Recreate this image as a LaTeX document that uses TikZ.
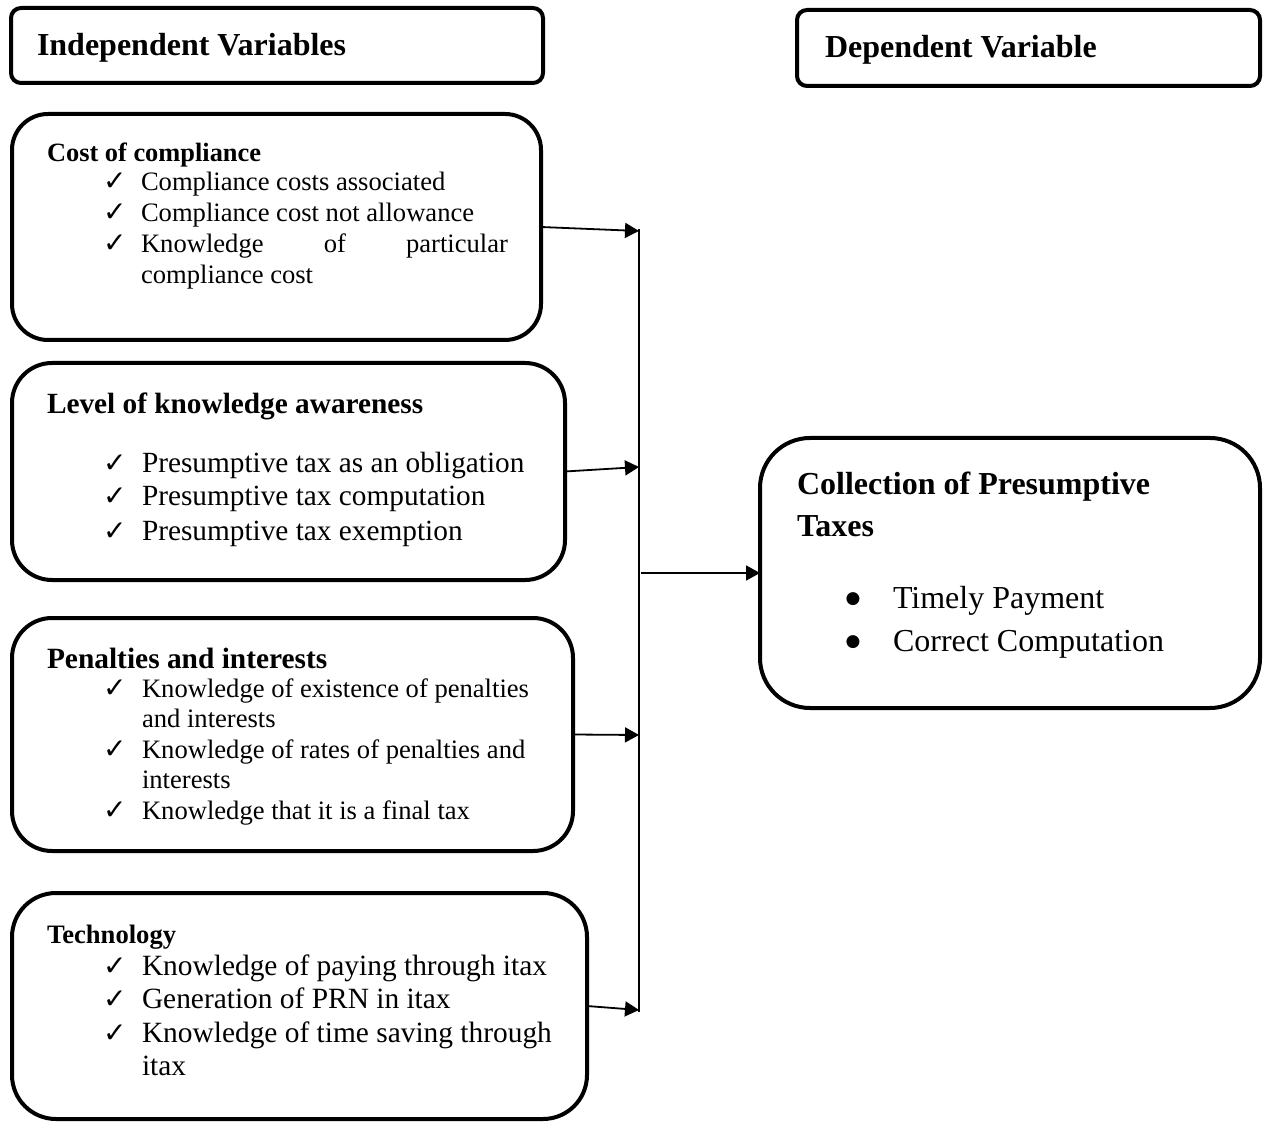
\documentclass[tikz,border=0pt]{standalone}
\usepackage{fontspec}
\setmainfont{Liberation Serif}
\newfontfamily\symfont{DejaVu Sans}
\usetikzlibrary{arrows.meta}
\begin{document}
\begin{tikzpicture}[x=0.5pt,y=-0.5pt,
  box/.style={draw, line width=2pt, inner sep=0pt, outer sep=0pt},
  txt/.style={anchor=base west, inner sep=0pt, outer sep=0pt},
  hd/.style={txt, font=\bfseries\fontsize{#1}{#1}\selectfont},
  bd/.style={txt, font=\fontsize{#1}{#1}\selectfont},
  ck/.style={txt, font=\symfont\fontsize{14}{14}\selectfont},
  dot/.style={anchor=center, inner sep=0pt, outer sep=0pt, font=\symfont\fontsize{8.5}{8.5}\selectfont},
  arr/.style={-{Triangle[length=7pt,width=7.5pt]}, line width=0.9pt},
  vline/.style={line width=0.75pt}]
\useasboundingbox (0,0) rectangle (1263,1122);
\fill[white] (0,0) rectangle (1263,1122);

% header boxes
\node[box, rounded corners=5pt, minimum width=266pt, minimum height=37.5pt] (hA) at (277,45.5) {};
\node[box, rounded corners=5pt, minimum width=231.5pt, minimum height=38pt] (hB) at (1028.5,48) {};
\node[hd=16] (hAt) at (37,56) {Independent Variables};
\node[hd=16] (hBt) at (825,58) {Dependent Variable};

% box 1
\node[box, rounded corners=18pt, minimum width=264.5pt, minimum height=113pt] (b1) at (276.5,227) {};
\node[hd=13.2] (b1h) at (47,162) {Cost of compliance};
\node[ck] (b1c1) at (103,191) {✓};
\node[ck] (b1c2) at (103,222) {✓};
\node[ck] (b1c3) at (103,253) {✓};
\node[bd=13.3] (b1l1) at (141,191) {Compliance costs associated};
\node[bd=13.3] (b1l2) at (141,222) {Compliance cost not allowance};
\node[bd=13.3] (b1l3) at (141,253) {\makebox[183.5pt][s]{Knowledge of particular}};
\node[bd=13.3] (b1l4) at (141,284) {compliance cost};

% box 2
\node[box, rounded corners=20pt, minimum width=276.5pt, minimum height=108.5pt] (b2) at (288.5,471.5) {};
\node[hd=14.65] (b2h) at (47,414) {Level of knowledge awareness};
\node[ck] (b2c1) at (103,473) {✓};
\node[ck] (b2c2) at (103,506) {✓};
\node[ck] (b2c3) at (103,540) {✓};
\node[bd=14.65] (b2l1) at (142,473) {Presumptive tax as an obligation};
\node[bd=14.65] (b2l2) at (142,506) {Presumptive tax computation};
\node[bd=14.65] (b2l3) at (142,540) {Presumptive tax exemption};

% box 3
\node[box, rounded corners=20pt, minimum width=280.5pt, minimum height=116.5pt] (b3) at (292.5,734.5) {};
\node[hd=14.7] (b3h) at (47,668) {Penalties and interests};
\node[ck] (b3c1) at (103,697) {✓};
\node[ck] (b3c2) at (103,758) {✓};
\node[ck] (b3c3) at (103,819) {✓};
\node[bd=13.3] (b3l1) at (142,697) {Knowledge of existence of penalties};
\node[bd=13.3] (b3l2) at (142,727) {and interests};
\node[bd=13.3] (b3l3) at (142,758) {Knowledge of rates of penalties and};
\node[bd=13.3] (b3l4) at (142,788) {interests};
\node[bd=13.3] (b3l5) at (142,819) {Knowledge that it is a final tax};

% box 4
\node[box, rounded corners=22pt, minimum width=287.5pt, minimum height=113pt] (b4) at (299.5,1006) {};
\node[hd=13.3] (b4h) at (47,943) {Technology};
\node[ck] (b4c1) at (103,975) {✓};
\node[ck] (b4c2) at (103,1008) {✓};
\node[ck] (b4c3) at (103,1042) {✓};
\node[bd=14.7] (b4l1) at (142,975) {Knowledge of paying through itax};
\node[bd=14.7] (b4l2) at (142,1008) {Generation of PRN in itax};
\node[bd=14.7] (b4l3) at (142,1042) {Knowledge of time saving through};
\node[bd=14.7] (b4l4) at (142,1075) {itax};

% box 5
\node[box, rounded corners=25pt, minimum width=250pt, minimum height=135pt] (b5) at (1010,573) {};
\node[hd=16] (b5h1) at (797,495) {Collection of Presumptive};
\node[hd=16] (b5h2) at (797,537) {Taxes};
\node[dot] (b5d1) at (853,599) {●};
\node[dot] (b5d2) at (853,642) {●};
\node[bd=16] (b5l1) at (893,608) {Timely Payment};
\node[bd=16] (b5l2) at (893,651) {Correct Computation};

% connectors
\coordinate (vtop) at (639,229);
\coordinate (vbot) at (639,1012);
\coordinate (t1) at (639,231);
\coordinate (t2) at (639,467);
\coordinate (t3) at (639,735);
\coordinate (t4) at (639,1010);
\coordinate (s5) at (641,573);
\draw[vline] (vtop) -- (vbot);
\draw[arr] (b1.east) -- (t1);
\draw[arr] (b2.east) -- (t2);
\draw[arr] (b3.east) -- (t3);
\draw[arr] (b4.east) -- (t4);
\draw[arr] (s5) -- (b5.west);
\end{tikzpicture}
\end{document}
